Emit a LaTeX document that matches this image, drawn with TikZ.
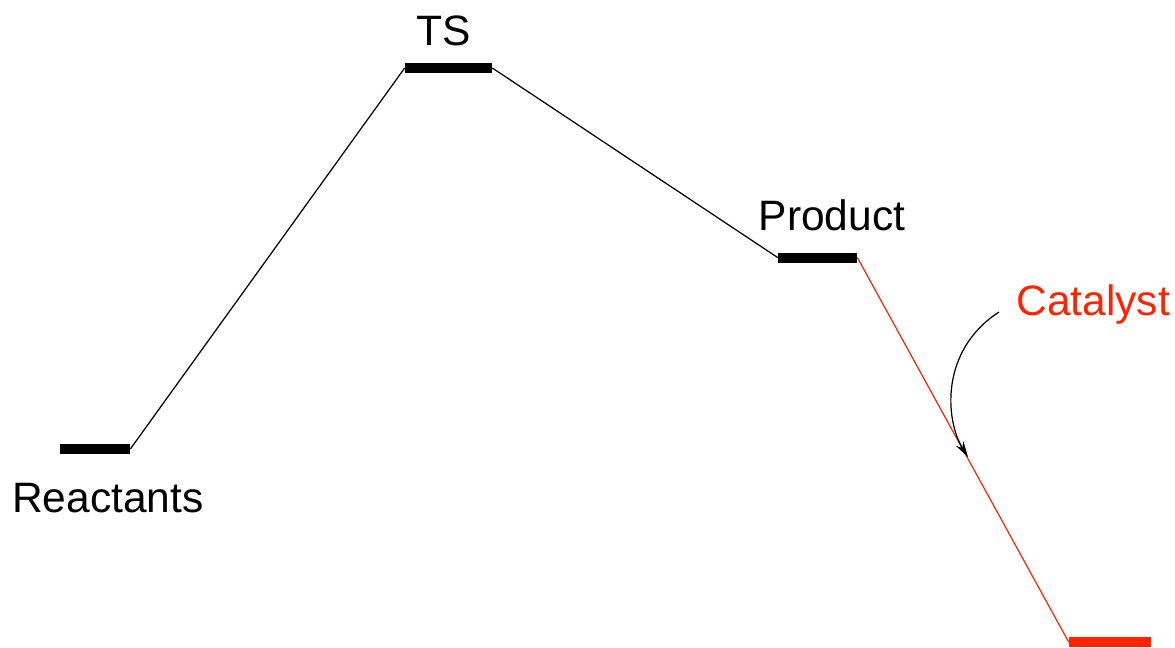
\documentclass[tikz,border=0pt]{standalone}
\usepackage{fontspec}
\setmainfont{Liberation Sans}
\usetikzlibrary{arrows.meta}
\definecolor{catred}{RGB}{255,36,0}
\begin{document}
\begin{tikzpicture}[x=0.02cm,y=-0.02cm,
  level/.style={rectangle, fill=black, inner sep=0pt, minimum height=0.2cm},
  path/.style={line width=0.7pt},
  label/.style={font=\fontsize{24.2}{28}\selectfont, inner sep=0pt, anchor=base}]
\useasboundingbox (0,0) rectangle (1175,647);
% energy levels
\node[level, minimum width=1.4cm]  (R)  at (95,449)   {};
\node[level, minimum width=1.74cm] (TS) at (448.5,68) {};
\node[level, minimum width=1.58cm] (P)  at (817.5,257.5) {};
\node[level, minimum width=1.64cm, fill=catred] (C) at (1110,642) {};
% reaction path
\draw[path] (R.east) -- (TS.west);
\draw[path] (TS.east) -- (P.west);
\draw[path, catred] (P.east) -- (C.west);
% labels
\node[label] (lR)  at (108,512) {Reactants};
\node[label] (lTS) at (443.5,45) {TS};
\node[label] (lP)  at (832,230) {Product};
\node[label, text=catred, anchor=base west] (lC) at (1016,315) {Catalyst};
% catalyst arrow
\coordinate (a0) at (999,312);
\coordinate (a1) at (968,457);
\draw[path, -{Stealth[length=9pt,width=5pt]}] (a0) .. controls (940,350) and (945,420) .. (a1);
\end{tikzpicture}
\end{document}
